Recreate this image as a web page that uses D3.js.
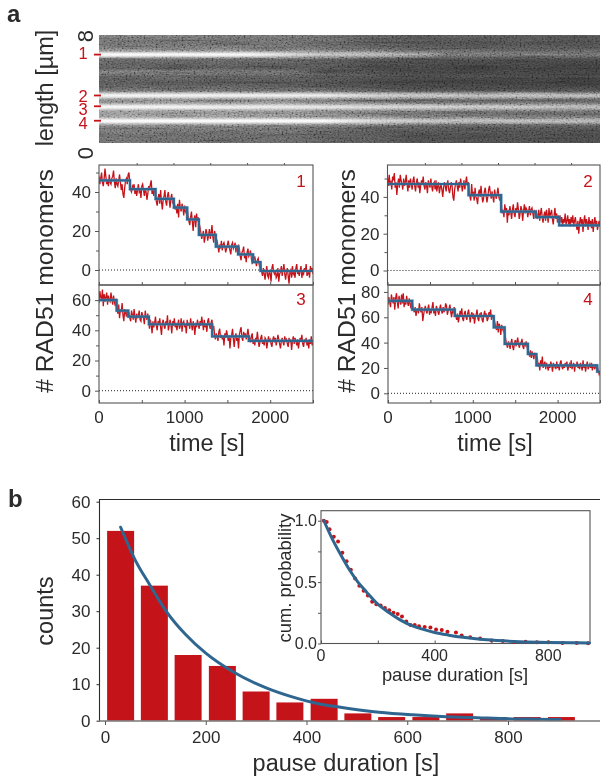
<!DOCTYPE html>
<html><head><meta charset="utf-8">
<script src="https://cdn.jsdelivr.net/npm/d3@7"></script>
<style>
html,body{margin:0;padding:0;background:#fff}
svg{display:block}
text{font-family:"Liberation Sans",Arial,sans-serif;fill:#2b2b2b}
</style></head><body>
<script>
// ---------- data ----------
const kymoProfileUm   = [8,7.4,7,6.55,6.2,5.5,5,4.5,4,3.8,3.52,3.15,2.67,2.2,1.63,1.2,0.6,0];
const kymoProfileGray = [108,98,110,150,92,78,90,76,92,112,170,118,170,128,170,108,94,96];
const kymoMarkers = [6.55,3.52,2.72,1.65];
const kymoMarkerNames = ["1","2","3","4"];
const bandUm = [6.55,5.28,3.52,2.67,1.63];
const bandFrac = [
  [0,.3,.4,.55,.66,.69,1],
  [0,.2,.4,.45,1],
  [0,.45,.55,1],
  [0,.5,1],
  [0,.45,.55,.7,1]];
const bandLevel = [
  [1,.95,.55,.35,.25,0,0],
  [.14,.12,.08,0,0],
  [.9,.82,.55,.42],
  [.95,.7,.42],
  [1,1,.62,.45,.38]];

const trace1 = [48,44,47,50,45,43,47,52,48,44,46,43,49,45,44,47,48,51,45,42,47,44,43,46,49,45,41,44,39,37,42,46,47,44,49,50,
 45,41,40,43,42,44,39,42,38,41,44,40,41,37,43,44,41,38,42,40,36,39,43,41,44,46,39,41,38,42,
 40,35,33,37,39,34,41,35,31,36,38,41,35,33,38,40,36,32,37,39,34,37,
 35,31,33,29,34,27,36,32,30,34,32,28,33,30,29,32,
 28,25,23,27,30,25,20,26,28,22,29,25,27,24,
 22,19,16,18,20,14,17,21,19,15,18,21,16,19,23,17,14,20,18,16,
 15,12,9,13,11,15,10,13,14,12,9,11,13,15,12,10,8,13,14,11,12,14,9,12,11,13,
 11,7,5,9,10,12,6,8,4,9,11,7,8,10,6,3,7,5,
 7,4,2,5,6,3,1,4,
 -1,-3,1,-2,-5,-1,2,-3,-4,0,-2,-6,1,3,-1,-2,0,-4,-3,1,-6,-2,-1,2,-3,0,3,-2,-5,-1,1,-3,-7,-1,0,-4,2,-2,-1,-4,1,3,-2,-1,-3,0,2,-4,-1,-2,1,-1,3,-3,-2,0,-4,2,-1,1,-2];
const trace2 = [50,46,52,47,48,44,51,49,53,45,48,41,47,50,45,52,49,47,44,50,46,48,52,47,43,49,45,50,47,44,49,51,46,43,48,50,45,48,42,46,49,47,51,46,44,48,46,42,49,47,45,50,46,43,47,48,44,49,43,46,48,42,45,47,44,40,45,48,46,43,47,49,44,42,45,48,46,40,38,44,47,49,46,43,48,45,50,47,43,46,49,44,48,51,46,48,
 44,40,38,47,41,42,38,45,40,39,36,42,44,40,46,41,37,39,43,45,41,37,40,44,46,42,39,43,40,37,44,41,39,42,45,40,38,41,
 35,31,33,29,36,32,34,26,33,30,35,32,28,33,36,31,29,34,32,37,33,28,31,35,33,27,32,36,31,34,33,29,32,35,30,33,34,31,28,33,31,
 32,28,30,33,27,31,34,29,26,30,32,27,33,30,26,34,29,31,33,28,25,30,34,28,31,26,30,28,
 30,26,29,24,28,26,31,25,27,30,25,28,24,29,26,30,24,27,29,25,22,27,20,26,29,25,28,21,27,30,24,28,26,22,29,25,27,23,28,21,26,29,24,27,22,25,27,24];
const trace3 = [58,66,62,60,67,56,64,59,62,65,57,63,60,59,65,61,57,63,59,56,61,
 55,51,57,48,54,52,58,50,46,54,52,49,53,50,
 52,48,46,53,50,47,54,49,45,51,48,50,53,47,46,52,50,48,44,53,49,47,51,46,
 41,47,44,38,46,42,45,49,43,40,46,44,48,42,37,45,47,43,41,46,44,50,40,43,47,44,38,46,43,48,42,45,40,44,47,41,43,48,39,45,46,42,44,38,47,43,45,41,48,44,40,46,43,37,45,42,47,44,41,46,43,49,45,40,47,42,44,39,46,48,43,41,45,47,
 40,43,37,34,38,36,33,39,41,35,37,34,36,30,38,35,40,37,33,36,28,35,37,41,34,29,36,38,33,35,28,37,40,42,35,33,39,36,38,34,37,41,36,
 35,32,36,38,31,34,30,35,33,39,34,29,32,35,37,31,33,30,35,34,28,32,36,33,34,31,29,34,36,32,35,30,33,37,34,31,28,33,35,32,30,36,33,34,31,29,35,32,34,27,33,36,31,35,33,30,34,28,32,35,33,37,31,29,34,32,35,30,33,28,34,31,36,30,32];
const trace4 = [70,76,72,68,78,74,71,76,66,75,79,72,67,77,73,70,78,71,79,68,74,70,77,72,69,75,71,67,73,
 70,66,64,68,61,65,67,63,71,66,64,68,57,62,66,69,65,63,67,70,62,65,64,68,72,63,66,61,69,67,64,62,67,70,65,63,68,64,66,71,69,62,65,67,70,64,60,66,63,68,
 66,61,58,63,56,60,65,62,67,59,57,63,65,60,58,63,66,61,56,62,64,59,63,55,60,62,66,59,57,63,61,64,58,56,62,65,60,63,57,59,64,61,66,58,62,60,
 60,56,52,50,57,48,55,53,46,54,51,49,52,
 46,42,38,36,41,39,35,40,43,37,34,39,42,37,41,44,38,36,40,39,43,37,35,40,38,41,36,
 36,32,29,34,28,33,30,27,32,30,
 27,29,21,24,18,26,22,29,20,23,25,19,24,21,18,23,20,25,22,17,24,21,23,19,25,20,22,18,24,26,21,19,23,20,24,22,25,18,21,23,20,26,19,22,24,17,23,21,25,20,22,19,24,21,18,26,20,23,17,22,25,19,21,23,20,24,18,22,21,19,23,20,
 21,18,15,17];
const fit1T = [0,362,661,875,1030,1167,1365,1625,1800,1886,2500];
const fit1V = [46,41.5,36.5,32,26,18,12,8,4,-0.5,-0.5];
const fit2T = [0,953,1337,1745,2020,2500];
const fit2V = [47,41,32,29,24.5,24.5];
const fit3T = [0,206,342,583,1322,1750,2500];
const fit3V = [60,53,49,44,36,33,33];
const fit4T = [0,286,787,1247,1376,1650,1750,2467,2500];
const fit4V = [73,66,61,52,39,31,22,17,17];
const timeTicks = [0,500,1000,1500,2000,2500];
const timeLabels = [0,1000,2000];
const topTicks = [440,870,1300,1730,2160];

const barCounts = [52,37,18,15,8,5,6,2,1,1,2,1,1,1];
const barCenters = [31,98,165,233,300,367,435,502,569,637,704,771,838,906];
const histFitT = [31,60,89,122,160,200,254,320,370,426,461,544,610,677,740,808,860,904];
const histFitC = [53,44,37.2,29.9,23.6,18.5,13.4,9,6.6,4.6,3.8,2.3,1.6,1.1,0.8,0.5,0.4,0.3];
const survT = [10,20,30,45,60,75,90,105,120,135,150,165,180,195,210,225,240,255,270,285,300,315,330,345,365,385,405,425,445,475,495,525,560,600,640,680,720,760,800,850,900,940];
const survP = [1,.99,.93,.87,.83,.74,.67,.60,.53,.47,.43,.39,.34,.32,.31,.29,.27,.25,.24,.22,.18,.15,.15,.14,.135,.13,.115,.11,.095,.09,.065,.05,.04,.025,.02,.012,.015,.01,.01,.005,.004,.003];
const survFitT = [10,40,70,100,130,160,200,240,280,320,360,400,450,500,560,620,700,800,900,945];
const survFitP = [1,.85,.72,.60,.50,.42,.32,.25,.19,.145,.115,.09,.068,.05,.034,.024,.015,.009,.006,.005];

// ---------- drawing ----------
const RED="#c5131a", BLUE="#2f6690", DARK="#2b2b2b", FRAME="#555";
const svg=d3.select("body").append("svg").attr("width",608).attr("height",782);
const defs=svg.append("defs");

function label(txt,x,y,size,opts={}){
  const t=svg.append("text").attr("x",x).attr("y",y).attr("font-size",size)
    .attr("text-anchor",opts.anchor||"middle").text(txt);
  if(opts.bold) t.attr("font-weight","bold");
  if(opts.fill) t.style("fill",opts.fill);
  return t;
}
label("a",7,22,24,{anchor:"start",bold:true});
label("b",8,507,24,{anchor:"start",bold:true});

// ---- kymograph ----
const kx=99,kw=501,ky0=35,ky1=143;
const kY=d3.scaleLinear().domain([0,8]).range([ky1,ky0]);
const grayGrad=defs.append("linearGradient").attr("id","kbase")
  .attr("gradientUnits","userSpaceOnUse").attr("x1",0).attr("x2",0).attr("y1",ky0).attr("y2",ky1);
kymoProfileUm.forEach((u,i)=>grayGrad.append("stop")
  .attr("offset",(kY(u)-ky0)/(ky1-ky0)).attr("stop-color",d3.rgb(kymoProfileGray[i],kymoProfileGray[i],kymoProfileGray[i]).formatHex()));
const dim=defs.append("linearGradient").attr("id","kdim");
[[0,0],[.4,.08],[.62,.28],[1,.32]].forEach(s=>dim.append("stop").attr("offset",s[0]).attr("stop-color","#000").attr("stop-opacity",s[1]));
const fb=defs.append("filter").attr("id","bandBlur").attr("x","-5%").attr("width","110%").attr("y","-150%").attr("height","400%");
fb.append("feGaussianBlur").attr("stdDeviation","0.3 1");
function noise(id,freq,seed,oct){
  const f=defs.append("filter").attr("id",id).attr("x",0).attr("y",0).attr("width","100%").attr("height","100%");
  f.append("feTurbulence").attr("type","fractalNoise").attr("baseFrequency",freq).attr("numOctaves",oct).attr("seed",seed);
  f.append("feColorMatrix").attr("values","1 0 0 0 0 1 0 0 0 0 1 0 0 0 0 0 0 0 0 1");
  const c=f.append("feComponentTransfer");
  ["feFuncR","feFuncG","feFuncB"].forEach(n=>c.append(n).attr("type","linear").attr("slope",2).attr("intercept",-.5));
}
noise("grain","0.5 0.7",3,2);
noise("streak","0.02 0.5",8,1);
const kg=svg.append("g");
const full=s=>s.attr("x",kx).attr("y",ky0).attr("width",kw).attr("height",ky1-ky0);
kg.append("rect").call(full).attr("fill","url(#kbase)");
kg.append("rect").call(full).attr("fill","url(#kdim)");
bandUm.forEach((u,i)=>{
  const g=defs.append("linearGradient").attr("id","band"+i);
  bandFrac[i].forEach((f,j)=>g.append("stop").attr("offset",f).attr("stop-color","#fff").attr("stop-opacity",bandLevel[i][j]));
  kg.append("rect").attr("x",kx).attr("width",kw).attr("y",kY(u)-2.2).attr("height",4.4)
    .attr("fill","url(#band"+i+")").attr("filter","url(#bandBlur)");
});
kg.append("rect").call(full).attr("filter","url(#streak)").style("mix-blend-mode","overlay").attr("opacity",.12);
kg.append("rect").call(full).attr("filter","url(#grain)").style("mix-blend-mode","overlay").attr("opacity",.32);
kymoMarkers.forEach(u=>{
  svg.append("line").attr("x1",94).attr("x2",101).attr("y1",kY(u)).attr("y2",kY(u)).attr("stroke",RED).attr("stroke-width",1.8);
});
[59,102,115,129].forEach((b,i)=>label(kymoMarkerNames[i],83,b,16.5,{fill:RED}));
label("8",0,0,22).attr("transform","translate(93,36) rotate(-90)");
label("0",0,0,22).attr("transform","translate(93,153) rotate(-90)");
label("length [µm]",53,88,23.5).attr("transform","rotate(-90 53 88)");

// ---- trace panels ----
const panels=[
 {n:"1",x0:99,x1:313,y0:165,y1:285,z:270,k:1.95,trace:trace1,T:fit1T,V:fit1V,major:[0,20,40],minor:[10,30,50]},
 {n:"2",x0:387.5,x1:600,y0:165,y1:285,z:270.5,k:1.84,trace:trace2,T:fit2T,V:fit2V,major:[0,20,40],minor:[10,30,50]},
 {n:"3",x0:99,x1:313,y0:285,y1:403,z:390.7,k:1.51,trace:trace3,T:fit3T,V:fit3V,major:[0,20,40,60],minor:[10,30,50]},
 {n:"4",x0:388,x1:600,y0:285,y1:403,z:393.3,k:1.267,trace:trace4,T:fit4T,V:fit4V,major:[0,20,40,60,80],minor:[]}
];
panels.forEach((p,ip)=>{
  const x=d3.scaleLinear().domain([0,2500]).range([p.x0,p.x1]);
  const y=d3.scaleLinear().domain([0,(p.z-p.y0)/p.k]).range([p.z,p.y0]);
  const id="clip"+p.n;
  defs.append("clipPath").attr("id",id).append("rect").attr("x",p.x0).attr("y",p.y0).attr("width",p.x1-p.x0).attr("height",p.y1-p.y0);
  const g=svg.append("g");
  const inner=g.append("g").attr("clip-path",`url(#${id})`);
  inner.append("line").attr("x1",p.x0).attr("x2",p.x1).attr("y1",y(0)).attr("y2",y(0))
    .attr("stroke","#222").attr("stroke-width",1).attr("stroke-dasharray","1 2");
  const dt=2500/(p.trace.length-1);
  inner.append("path").datum(p.trace).attr("fill","none").attr("stroke",RED).attr("stroke-width",1.3)
    .attr("d",d3.line().x((d,i)=>x(i*dt)).y(d=>y(d)));
  const step=d3.line().x(d=>x(d[0])).y(d=>y(d[1])).curve(d3.curveStepAfter);
  const pts=p.T.map((t,i)=>[t,p.V[i]]);
  inner.append("path").datum(pts).attr("fill","none").attr("stroke","#6ea3c8").attr("stroke-width",3.2).attr("opacity",.55).attr("d",step);
  inner.append("path").datum(pts).attr("fill","none").attr("stroke",BLUE).attr("stroke-width",2.2).attr("d",step);
  g.append("rect").attr("x",p.x0).attr("y",p.y0).attr("width",p.x1-p.x0).attr("height",p.y1-p.y0)
    .attr("fill","none").attr("stroke",FRAME).attr("stroke-width",1.1);
  const ax=g.append("g").attr("transform",`translate(${p.x0},0)`);
  ax.call(d3.axisLeft(y).tickValues(p.major).tickSize(4).tickPadding(4).tickFormat(d3.format("d")));
  ax.select(".domain").remove();
  ax.selectAll("line").attr("stroke",FRAME);
  ax.selectAll("text").attr("font-size",17).attr("font-family",null).style("fill",DARK);
  if(p.minor.length){
    const am=g.append("g").attr("transform",`translate(${p.x0},0)`);
    am.call(d3.axisLeft(y).tickValues(p.minor).tickSize(3).tickFormat(""));
    am.select(".domain").remove(); am.selectAll("line").attr("stroke",FRAME);
  }
  const ab=g.append("g").attr("transform",`translate(0,${p.y1})`);
  ab.call(d3.axisBottom(x).tickValues(timeTicks).tickSize(-3).tickFormat(""));
  ab.select(".domain").remove(); ab.selectAll("line").attr("stroke",FRAME);
  if(ip<2){
    const at=g.append("g").attr("transform",`translate(0,${p.y0})`);
    at.call(d3.axisTop(x).tickValues(topTicks).tickSize(2).tickFormat(""));
    at.select(".domain").remove(); at.selectAll("line").attr("stroke",FRAME);
  } else {
    timeLabels.forEach(v=>label(v,x(v),423,17));
    label("time [s]",(p.x0+p.x1)/2+1,451,23.5);
  }
  label(p.n,p.x1-12,p.y0+(ip<2?22:20),17,{fill:RED});
});
label("# RAD51 monomers",53,281,24.7).attr("transform","rotate(-90 53 281)");
label("# RAD51 monomers",355,281,24.7).attr("transform","rotate(-90 355 281)");

// ---- histogram ----
const hx=d3.scaleLinear().domain([0,800]).range([105,508]);
const hy=d3.scaleLinear().domain([0,60]).range([720.7,501.7]);
const barW=hx(53.6)-hx(0);
svg.selectAll("rect.bar").data(barCounts).join("rect").attr("class","bar")
  .attr("x",(d,i)=>hx(barCenters[i])-barW/2).attr("width",barW)
  .attr("y",d=>hy(d)).attr("height",d=>hy(0)-hy(d)).attr("fill",RED);
svg.append("path").datum(histFitT.map((t,i)=>[t,histFitC[i]])).attr("fill","none")
  .attr("stroke",BLUE).attr("stroke-width",3).attr("stroke-linecap","round")
  .attr("d",d3.line().x(d=>hx(d[0])).y(d=>hy(d[1])).curve(d3.curveMonotoneX));
svg.append("line").attr("x1",99).attr("x2",600).attr("y1",499.5).attr("y2",499.5).attr("stroke",DARK).attr("stroke-width",1.1);
svg.append("line").attr("x1",99.5).attr("x2",99.5).attr("y1",499).attr("y2",721).attr("stroke",DARK).attr("stroke-width",1.1);
svg.append("line").attr("x1",99).attr("x2",600).attr("y1",721).attr("y2",721).attr("stroke","#777").attr("stroke-width",1.5);
const hax=svg.append("g").attr("transform","translate(99.5,0)")
  .call(d3.axisLeft(hy).tickValues([0,10,20,30,40,50,60]).tickSize(3).tickPadding(6).tickFormat(d3.format("d")));
hax.select(".domain").remove();
hax.selectAll("line").attr("stroke",DARK);
hax.selectAll("text").attr("font-size",17).attr("font-family",null).style("fill",DARK);
const hbx=svg.append("g").attr("transform","translate(0,721)")
  .call(d3.axisBottom(hx).tickValues([0,200,400,600,800]).tickSize(4).tickPadding(6).tickFormat(d3.format("d")));
hbx.select(".domain").remove();
hbx.selectAll("line").attr("stroke","#555");
hbx.selectAll("text").attr("font-size",17).attr("font-family",null).style("fill",DARK);
label("counts",53,611,23.5).attr("transform","rotate(-90 53 611)");
label("pause duration [s]",346,771,23.5);

// ---- inset ----
const ix=d3.scaleLinear().domain([0,800]).range([321,548.3]);
const iy=d3.scaleLinear().domain([0,1]).range([643.5,520.7]);
svg.append("rect").attr("x",321).attr("y",510.7).attr("width",269).attr("height",132.8).attr("fill","#fff").attr("stroke",FRAME).attr("stroke-width",1.1);
svg.selectAll("circle.surv").data(survT).join("circle").attr("class","surv")
  .attr("cx",d=>ix(d)).attr("cy",(d,i)=>iy(survP[i])).attr("r",2).attr("fill",RED);
svg.append("path").datum(survFitT.map((t,i)=>[t,survFitP[i]])).attr("fill","none")
  .attr("stroke",BLUE).attr("stroke-width",3).attr("stroke-linecap","round")
  .attr("d",d3.line().x(d=>ix(d[0])).y(d=>iy(d[1])).curve(d3.curveMonotoneX));
const iax=svg.append("g").attr("transform","translate(321,0)")
  .call(d3.axisLeft(iy).tickValues([0,.5,1]).tickSize(3).tickPadding(1).tickFormat(d3.format(".1f")));
iax.select(".domain").remove();
iax.selectAll("line").attr("stroke",FRAME);
iax.selectAll("text").attr("font-size",16).attr("font-family",null).style("fill",DARK);
const iam=svg.append("g").attr("transform","translate(321,0)")
  .call(d3.axisLeft(iy).tickValues([.25,.75]).tickSize(3).tickFormat(""));
iam.select(".domain").remove(); iam.selectAll("line").attr("stroke",FRAME);
const ibx=svg.append("g").attr("transform","translate(0,643.5)")
  .call(d3.axisBottom(ix).tickValues([0,200,400,600,800]).tickSize(-3).tickFormat(""));
ibx.select(".domain").remove(); ibx.selectAll("line").attr("stroke",FRAME);
[0,400,800].forEach(v=>label(v,ix(v),660.5,16));
label("pause duration [s]",455,681,18.4);
label("cum. probability",291,578,18.4).attr("transform","rotate(-90 291 578)");
</script>
</body></html>
